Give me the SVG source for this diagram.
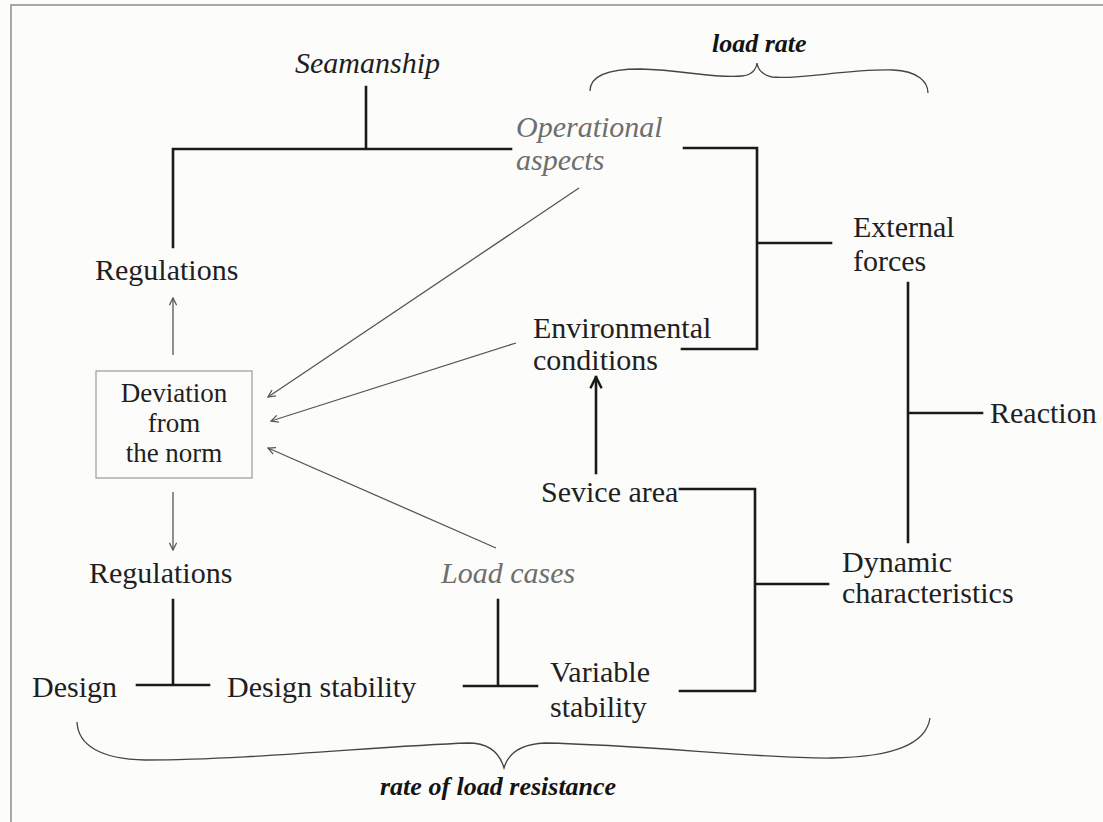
<svg xmlns="http://www.w3.org/2000/svg" width="1103" height="822" viewBox="0 0 1103 822">
  <defs>
    <style>
      .t { font-family: "Liberation Serif", "DejaVu Serif", serif; font-size: 30px; fill: #1f1f1f; }
      .it { font-style: italic; }
      .gray { fill: #6e6e6e; }
      .bi { font-style: italic; font-weight: bold; font-size: 26px; fill: #141414; }
      .box { font-size: 27px; }
      .thick { stroke: #1a1a1a; stroke-width: 2.6; fill: none; stroke-linecap: square; stroke-linejoin: miter; }
      .thin { stroke: #555; stroke-width: 1.3; fill: none; }
      .brace { stroke: #444; stroke-width: 1.3; fill: none; }
    </style>
    <marker id="ah" viewBox="0 0 10 10" refX="9" refY="5" markerWidth="9" markerHeight="9" markerUnits="userSpaceOnUse" orient="auto">
      <path d="M1,1 L9,5 L1,9" fill="none" stroke="#555" stroke-width="1.4"/>
    </marker>
    <marker id="ahk" viewBox="0 0 10 10" refX="9" refY="5" markerWidth="14" markerHeight="14" markerUnits="userSpaceOnUse" orient="auto">
      <path d="M1,1 L9,5 L1,9" fill="none" stroke="#1a1a1a" stroke-width="1.8"/>
    </marker>
  </defs>

  <rect x="0" y="0" width="1103" height="822" fill="#fcfcfa"/>
  <path d="M11,830 L11,5 L1110,5" fill="none" stroke="#8a8a8a" stroke-width="1.5"/>

  <g id="connectors">
    <path class="thick" d="M366,87 L366,149 M173,247 L173,149 L511,149"/>
    <path class="thick" d="M684,148 L757,148 L757,349 L682,349 M757,243 L831,243"/>
    <path class="thick" d="M908,283 L908,542 M908,413 L982,413"/>
    <path class="thick" d="M680,489 L755,489 L755,691 L680,691 M755,584 L828,584"/>
    <path class="thick" d="M173,600 L173,685 M137,685 L209,685"/>
    <path class="thick" d="M498,600 L498,686 M464,686 L537,686"/>
    <line class="thick" x1="596" y1="473" x2="596" y2="377" marker-end="url(#ahk)" stroke-linecap="butt"/>
    <line class="thin" x1="173" y1="355" x2="173" y2="298" marker-end="url(#ah)"/>
    <line class="thin" x1="173" y1="492" x2="173" y2="550" marker-end="url(#ah)"/>
    <line class="thin" x1="579" y1="188" x2="268" y2="397" marker-end="url(#ah)"/>
    <line class="thin" x1="516" y1="343" x2="271" y2="421" marker-end="url(#ah)"/>
    <line class="thin" x1="496" y1="548" x2="268" y2="448" marker-end="url(#ah)"/>
    <path class="brace" d="M590,91 C590,76 608,69 640,69 C685,70 715,79 742,76 C751,75 756,70 757,63 C758,70 763,75 772,77 C800,80 845,69 893,70 C918,71 928,82 928,93"/>
    <path class="brace" d="M77,722 C78,745 100,759 145,760 C250,760 380,746 468,743 C490,743 500,754 504,768 C508,754 520,744 545,743 C650,745 760,759 832,758 C892,757 926,745 930,718"/>
  </g>

  <g id="label-load-rate"><text class="t bi" x="712" y="52">load rate</text></g>
  <g id="node-seamanship"><text class="t it" x="295" y="73">Seamanship</text></g>
  <g id="node-operational"><text class="t it gray" x="516" y="137">Operational</text><text class="t it gray" x="516" y="170">aspects</text></g>
  <g id="node-regulations-top"><text class="t" x="95" y="280">Regulations</text></g>
  <g id="node-external"><text class="t" x="853" y="237">External</text><text class="t" x="853" y="271">forces</text></g>
  <g id="node-environmental"><text class="t" x="533" y="338">Environmental</text><text class="t" x="533" y="370">conditions</text></g>
  <g id="node-deviation">
    <rect x="96" y="371" width="156" height="107" fill="none" stroke="#9a9a9a" stroke-width="1.2"/>
    <text class="t box" x="174" y="402" text-anchor="middle">Deviation</text>
    <text class="t box" x="174" y="432" text-anchor="middle">from</text>
    <text class="t box" x="174" y="462" text-anchor="middle">the norm</text>
  </g>
  <g id="node-reaction"><text class="t" x="990" y="423">Reaction</text></g>
  <g id="node-service-area"><text class="t" x="541" y="502">Sevice area</text></g>
  <g id="node-regulations-bottom"><text class="t" x="89" y="583">Regulations</text></g>
  <g id="node-load-cases"><text class="t it gray" x="441" y="583">Load cases</text></g>
  <g id="node-dynamic"><text class="t" x="842" y="572">Dynamic</text><text class="t" x="842" y="603">characteristics</text></g>
  <g id="node-design"><text class="t" x="32" y="697">Design</text></g>
  <g id="node-design-stability"><text class="t" x="227" y="697">Design stability</text></g>
  <g id="node-variable-stability"><text class="t" x="550" y="682">Variable</text><text class="t" x="550" y="717">stability</text></g>
  <g id="label-resistance"><text class="t bi" x="380" y="795">rate of load resistance</text></g>
</svg>
